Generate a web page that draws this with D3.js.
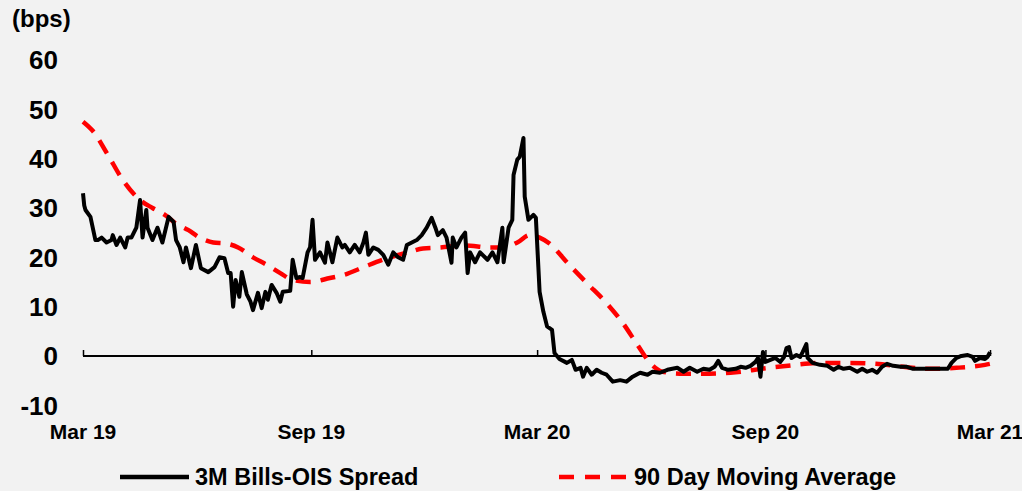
<!DOCTYPE html>
<html>
<head>
<meta charset="utf-8">
<script src="https://cdn.jsdelivr.net/npm/d3@7"></script>
<style>
  body { margin: 0; background: #f2f2f2; }
  text { font-family: "Liberation Sans", Arial, sans-serif; font-weight: bold; fill: #000; }
</style>
</head>
<body>
<div id="chart"></div>
<script>
var spreadDates = ["2019-03-01","2019-03-02","2019-03-03","2019-03-07","2019-03-11","2019-03-13","2019-03-16","2019-03-20","2019-03-24","2019-03-25","2019-03-28","2019-03-31",
  "2019-04-04","2019-04-06","2019-04-09","2019-04-13","2019-04-16","2019-04-18","2019-04-21","2019-04-22","2019-04-26","2019-04-30",
  "2019-05-04","2019-05-09","2019-05-13","2019-05-15","2019-05-18","2019-05-21","2019-05-23","2019-05-27","2019-05-31",
  "2019-06-04","2019-06-10","2019-06-15","2019-06-19","2019-06-23","2019-06-26","2019-06-28","2019-06-30",
  "2019-07-02","2019-07-05","2019-07-07","2019-07-11","2019-07-14","2019-07-16","2019-07-20","2019-07-23","2019-07-26","2019-07-28","2019-07-31",
  "2019-08-04","2019-08-07","2019-08-09","2019-08-15","2019-08-17","2019-08-20","2019-08-23","2019-08-25","2019-08-29","2019-08-31",
  "2019-09-02","2019-09-04","2019-09-08","2019-09-12","2019-09-14","2019-09-18","2019-09-22","2019-09-26","2019-09-28",
  "2019-10-02","2019-10-06","2019-10-10","2019-10-13","2019-10-15","2019-10-17","2019-10-21","2019-10-25","2019-10-29",
  "2019-11-02","2019-11-06","2019-11-10","2019-11-14","2019-11-17","2019-11-21","2019-11-25","2019-11-29",
  "2019-12-03","2019-12-07","2019-12-10","2019-12-12","2019-12-16","2019-12-19","2019-12-23","2019-12-24","2019-12-27","2019-12-31",
  "2020-01-03","2020-01-05","2020-01-07","2020-01-11","2020-01-15","2020-01-21","2020-01-25","2020-01-29",
  "2020-02-02","2020-02-03","2020-02-07","2020-02-10","2020-02-11","2020-02-14","2020-02-16","2020-02-19","2020-02-20","2020-02-23","2020-02-27","2020-02-29",
  "2020-03-02","2020-03-03","2020-03-06","2020-03-09","2020-03-13","2020-03-15","2020-03-19","2020-03-25","2020-03-29",
  "2020-04-01","2020-04-05","2020-04-07","2020-04-10","2020-04-14","2020-04-18","2020-04-22","2020-04-26",
  "2020-05-01","2020-05-07","2020-05-12","2020-05-17","2020-05-23","2020-05-29",
  "2020-06-02","2020-06-08","2020-06-14","2020-06-22","2020-06-27",
  "2020-07-02","2020-07-08","2020-07-13","2020-07-18","2020-07-22","2020-07-25","2020-07-28",
  "2020-08-02","2020-08-08","2020-08-12","2020-08-16","2020-08-20","2020-08-24","2020-08-26","2020-08-28","2020-08-30",
  "2020-09-01","2020-09-05","2020-09-09","2020-09-13","2020-09-16","2020-09-18","2020-09-20","2020-09-22","2020-09-26","2020-09-29",
  "2020-10-01","2020-10-04","2020-10-05","2020-10-09","2020-10-15","2020-10-21","2020-10-26","2020-10-30",
  "2020-11-03","2020-11-08","2020-11-14","2020-11-18","2020-11-22","2020-11-26","2020-11-30",
  "2020-12-04","2020-12-08","2020-12-13","2020-12-19","2020-12-24","2020-12-29",
  "2021-01-06","2021-01-14","2021-01-22","2021-01-26","2021-01-29",
  "2021-02-02","2021-02-06","2021-02-11","2021-02-15","2021-02-17","2021-02-21","2021-02-25","2021-02-27","2021-03-01"];

var spreadValues = [33,30.5,29.6,28.2,23.5,23.5,24,23,23.5,24.5,22.5,24,
  22,24,24,26,31.6,24,29.6,26,23.5,26,
  23,28.2,27.2,23.5,22,19,22,17.8,22.5,
  17.8,17,18,20,19.8,16.8,16.8,10,
  15.4,12,17,12.5,11,9.3,12.8,9.7,13,11.4,14.4,
  12.8,11,13,13.2,19.5,15.8,16,15.8,21,22,
  27.6,19.5,21,18.9,23,19,24,22,22.5,
  21,22.5,21,23,25,20.5,22,21.5,20.5,
  18.5,21,20,19.5,22.5,23,23.5,24.5,
  26,28,26,24.5,25.5,24,18.9,24,22,24,
  25,16.8,21,19,21,19.5,21,19,
  26,19,26,27.6,36.7,39.8,40.4,44.2,32.3,27.6,28.6,28,
  18,13,9,6,5.3,0.6,-0.6,-1.4,-0.8,
  -2.8,-2.4,-4.2,-2.4,-3.8,-2.8,-3.4,-3.8,
  -5.2,-4.9,-5.2,-4.2,-3.4,-3.8,
  -3.2,-3.4,-2.8,-2.4,-3.2,
  -2.4,-3.2,-2.6,-2.8,-2.2,-1,-2.4,
  -2.8,-2.6,-2.2,-2.4,-2,-1.2,-0.4,-4.2,0.8,
  -1.2,-0.8,-0.4,-1.2,-0.2,1.6,1.8,-0.4,0.2,-0.2,
  0.8,2.4,-0.4,-1.4,-1.8,-2,-2.8,-2.2,
  -2.6,-2.4,-3.2,-2.6,-3.2,-2.8,-3.4,
  -2.2,-1.6,-2,-2.2,-2.2,-2.6,
  -2.6,-2.6,-2.6,-2.6,-1.4,
  -0.4,0,0.2,-0.2,-1,-0.4,-0.6,-0.2,0.8];

var maDates = ["2019-03-01","2019-03-09","2019-03-21","2019-04-02","2019-04-16","2019-04-26","2019-05-06","2019-05-14","2019-05-25",
  "2019-06-03","2019-06-14","2019-06-24","2019-07-04","2019-07-16","2019-07-27","2019-08-07","2019-08-17","2019-08-31",
  "2019-09-16","2019-09-28","2019-10-13","2019-11-01","2019-11-18","2019-11-30","2019-12-14",
  "2020-01-03","2020-01-23","2020-02-03","2020-02-14","2020-02-24","2020-03-03","2020-03-11","2020-03-25",
  "2020-04-10","2020-04-26","2020-05-09","2020-05-21","2020-05-31","2020-06-10","2020-06-27","2020-07-18",
  "2020-08-08","2020-09-01","2020-09-22","2020-10-15","2020-11-06","2020-11-29","2020-12-21",
  "2021-01-12","2021-02-02","2021-02-25","2021-03-01"];

var maValues = [47.5,45.6,40.8,35.7,31.6,30,28.6,27,25.5,
  24,23,22.8,22,20,18.5,16.8,15.4,15,
  15.8,16.5,18,19.8,21,21.8,22,
  22.4,22,22,23,24.5,24,22.8,19,
  14.8,10.7,6.7,2.2,-1.4,-3.2,-3.6,-3.6,
  -3.3,-2.5,-1.9,-1.4,-1.4,-1.6,-2.2,
  -2.6,-2.4,-1.8,-1.6];

var yTicks = [-10, 0, 10, 20, 30, 40, 50, 60];
var xTicks = ["2019-03-01", "2019-09-01", "2020-03-01", "2020-09-01", "2021-03-01"];
var seriesNames = ["3M Bills-OIS Spread", "90 Day Moving Average"];

var width = 1022,
    height = 491;

var parse = d3.timeParse("%Y-%m-%d");
var fmt = d3.timeFormat("%b %y");

var spread = spreadDates.map(function(d, i) { return {date: parse(d), value: spreadValues[i]}; });
var ma = maDates.map(function(d, i) { return {date: parse(d), value: maValues[i]}; });

var x = d3.scaleTime()
    .domain([parse("2019-03-01"), parse("2021-03-01")])
    .range([83, 990]);

var y = d3.scaleLinear()
    .domain([-10, 60])
    .range([405.3, 60]);

var svg = d3.select("#chart").append("svg")
    .attr("width", width)
    .attr("height", height)
    .style("background", "#f2f2f2");

svg.append("text")
    .attr("x", 12)
    .attr("y", 27)
    .style("font-size", "24px")
    .text("(bps)");

// y labels, no axis line
svg.selectAll(".ylab")
    .data(yTicks)
  .enter().append("text")
    .attr("class", "ylab")
    .attr("x", 58)
    .attr("y", function(d) { return y(d); })
    .attr("dy", "0.36em")
    .attr("text-anchor", "end")
    .style("font-size", "26px")
    .text(function(d) { return d; });

// zero line with upward ticks
var xAxis = svg.append("g")
    .attr("transform", "translate(0," + y(0) + ")")
    .call(d3.axisTop(x)
      .tickValues(xTicks.map(parse))
      .tickSize(6)
      .tickFormat(""));

xAxis.select(".domain")
    .attr("d", "M" + x.range()[0] + ",0H" + x.range()[1])
    .attr("stroke", "#000")
    .attr("stroke-width", 2);
xAxis.selectAll(".tick line").attr("stroke", "#000").attr("stroke-width", 1.5);

svg.selectAll(".xlab")
    .data(xTicks)
  .enter().append("text")
    .attr("class", "xlab")
    .attr("x", function(d) { return x(parse(d)); })
    .attr("y", 439)
    .attr("text-anchor", "middle")
    .style("font-size", "21px")
    .text(function(d) { return fmt(parse(d)); });

var line = d3.line()
    .x(function(d) { return x(d.date); })
    .y(function(d) { return y(d.value); });

var smooth = d3.line()
    .x(function(d) { return x(d.date); })
    .y(function(d) { return y(d.value); })
    .curve(d3.curveMonotoneX);

svg.append("path")
    .datum(ma)
    .attr("d", smooth)
    .attr("fill", "none")
    .attr("stroke", "#ff0000")
    .attr("stroke-width", 4.5)
    .attr("stroke-dasharray", "15,10");

svg.append("path")
    .datum(spread)
    .attr("d", line)
    .attr("fill", "none")
    .attr("stroke", "#000")
    .attr("stroke-width", 4)
    .attr("stroke-linejoin", "round");

// legend
var legend = svg.selectAll(".legend")
    .data(seriesNames)
  .enter().append("g")
    .attr("class", "legend")
    .attr("transform", function(d, i) { return "translate(" + (i == 0 ? 120 : 559) + ",477)"; });

legend.append("line")
    .attr("x1", 0)
    .attr("x2", 69)
    .attr("stroke", function(d, i) { return i == 0 ? "#000" : "#ff0000"; })
    .attr("stroke-width", 4.5)
    .attr("stroke-dasharray", function(d, i) { return i == 0 ? null : "15,11"; });

legend.append("text")
    .attr("x", 75)
    .attr("dy", "0.36em")
    .style("font-size", "23.5px")
    .text(function(d) { return d; });
</script>
</body>
</html>
